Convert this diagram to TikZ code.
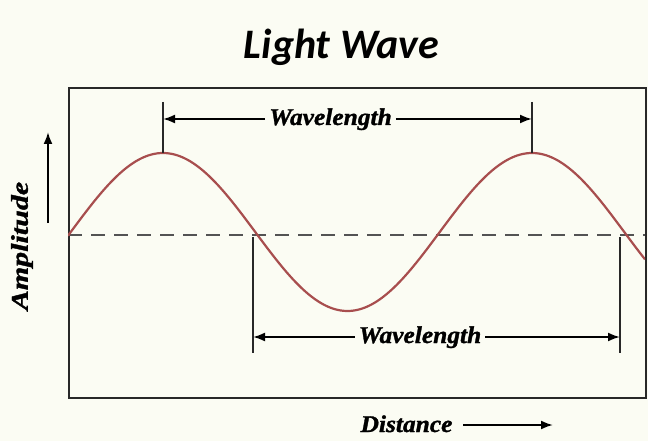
\documentclass[tikz,border=0pt]{standalone}
\usepackage{fontspec}
\setmainfont{Liberation Serif}
\newfontfamily\lblfont[FakeBold=1.3]{Liberation Serif}
\newfontfamily\titlefont{Carlito}
\usetikzlibrary{arrows.meta}
\definecolor{bgcream}{RGB}{251,252,243}
\definecolor{wavered}{RGB}{168,78,78}
\definecolor{inkgrey}{RGB}{40,40,40}
\tikzset{
  framebox/.style={draw=inkgrey, line width=2pt},
  tickline/.style={draw=inkgrey, line width=1.4pt},
  waveline/.style={draw=wavered, line width=2.2pt},
  midline/.style={draw=inkgrey!80, line width=1.4pt, dash pattern=on 14pt off 9pt},
  dimarrow/.style={draw=black, line width=2pt, -{Latex[length=12pt,width=9pt]}},
  lbl/.style={font=\lblfont\fontsize{24}{24}\selectfont\bfseries\itshape, inner sep=0pt, anchor=base},
}
\begin{document}
\begin{tikzpicture}[x=1pt,y=-1pt]
\useasboundingbox (0,0) rectangle (648,441);
\fill[bgcream] (0,0) rectangle (648,441);
% title
\node[anchor=base, inner sep=0pt, font=\titlefont\fontsize{42}{42}\selectfont\bfseries\itshape] (title) at (341.5,59) {Light Wave};
% frame
\node[framebox, minimum width=577pt, minimum height=310pt, inner sep=0pt, anchor=north west] (box) at (68,87) {};
% dashed centre line
\coordinate (ml) at (68,235);
\coordinate (mr) at (645,235);
\draw[midline] (ml) -- (mr);
% wave
\begin{scope}
\clip (68,87) rectangle (645,397);
\draw[waveline] plot[domain=68:645, samples=240, smooth] (\x, {232-79*sin((\x-70.75)/369*360)});
\end{scope}
% top ticks
\coordinate (t1a) at (163,102); \coordinate (t1b) at (163,153);
\coordinate (t2a) at (532,102); \coordinate (t2b) at (532,153);
\draw[tickline] (t1a) -- (t1b);
\draw[tickline] (t2a) -- (t2b);
% bottom ticks
\coordinate (b1a) at (253,237); \coordinate (b1b) at (253,353);
\coordinate (b2a) at (620,237); \coordinate (b2b) at (620,353);
\draw[tickline] (b1a) -- (b1b);
\draw[tickline] (b2a) -- (b2b);
% top wavelength
\node[lbl] (wl1) at (330.5,125) {\scalebox{1.06}[1]{Wavelength}};
\coordinate (wl1l) at (163,119); \coordinate (wl1r) at (532,119);
\draw[dimarrow] (wl1.west |- wl1l) ++(-4,0) -- (wl1l);
\draw[dimarrow] (wl1.east |- wl1r) ++(4,0) -- (wl1r);
% bottom wavelength
\node[lbl] (wl2) at (420,343) {\scalebox{1.06}[1]{Wavelength}};
\coordinate (wl2l) at (253,337); \coordinate (wl2r) at (620,337);
\draw[dimarrow] (wl2.west |- wl2l) ++(-4,0) -- (wl2l);
\draw[dimarrow] (wl2.east |- wl2r) ++(4,0) -- (wl2r);
% distance
\node[lbl] (dist) at (406.5,432) {\scalebox{1.06}[1]{Distance}};
\coordinate (distend) at (553,425);
\draw[dimarrow] (463,425) -- (distend);
% amplitude
\node[lbl, anchor=center, rotate=90] (amp) at (22,246) {\scalebox{1.25}[1]{Amplitude}};
\coordinate (ampb) at (48,223); \coordinate (ampt) at (48,132);
\draw[dimarrow] (ampb) -- (ampt);
\end{tikzpicture}
\end{document}
